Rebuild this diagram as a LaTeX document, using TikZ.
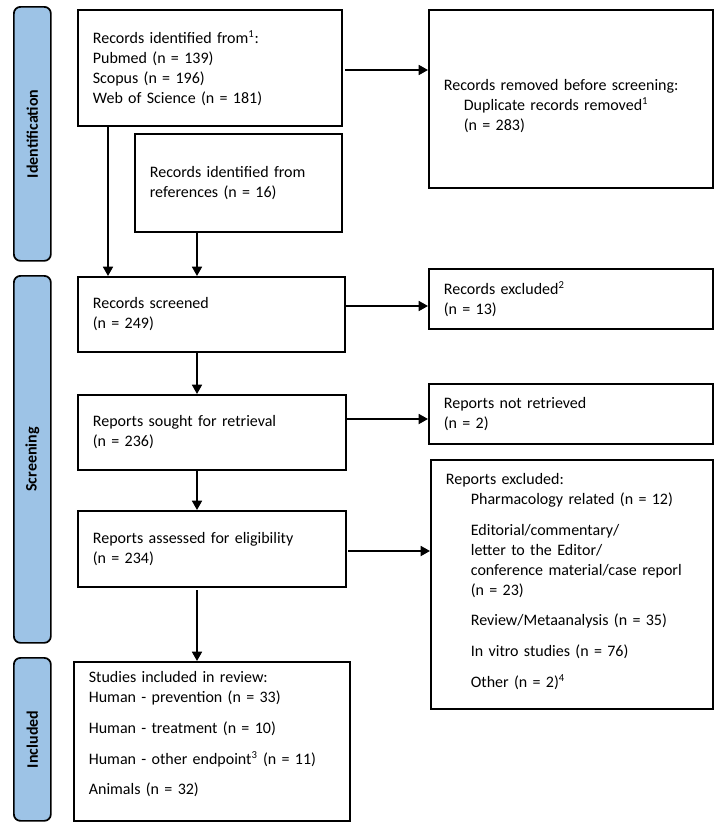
\documentclass[tikz,border=0pt]{standalone}
\usepackage{fontspec}
\setmainfont{Carlito}
\usetikzlibrary{arrows.meta}
\definecolor{barblue}{RGB}{157,195,230}
\begin{document}
\begin{tikzpicture}[x=0.75pt,y=-0.75pt,
  box/.style={draw, line width=1.3pt, align=left, inner xsep=11.25pt, inner ysep=0pt, anchor=north west, font=\fontsize{12pt}{15pt}\selectfont},
  bar/.style={draw, line width=1.3pt, fill=barblue, rounded corners=5pt, anchor=north west, minimum width=27.75pt, inner sep=0pt},
  barlabel/.style={rotate=90, font=\fontsize{12pt}{15pt}\selectfont\bfseries},
  arr/.style={line width=1.3pt, -{Triangle[length=7pt,width=7.5pt]}}]
\useasboundingbox (0,0) rectangle (719,828);
% phase bars
\node[bar, minimum height=190.5pt] (b1) at (13,6) {};
\node[barlabel] (l1) at (b1.center) {Identification};
\node[bar, minimum height=275.25pt] (b2) at (13,275) {};
\node[barlabel] (l2) at (b2.center) {Screening};
\node[bar, minimum height=122.25pt] (b3) at (13,657) {};
\node[barlabel] (l3) at (b3.center) {Included};
% boxes
\node[box, minimum width=198pt, text width=175.5pt, minimum height=87pt] (ident) at (77,9)
  {Records identified from\textsuperscript{1}:\\Pubmed (n = 139)\\Scopus (n = 196)\\Web of Science (n = 181)};
\node[box, minimum width=155.25pt, text width=132.75pt, minimum height=73.5pt] (refs) at (134,133)
  {Records identified from\\references (n = 16)};
\node[box, minimum width=213pt, text width=190.5pt, minimum height=133.5pt] (removed) at (428,9)
  {\rule{0pt}{19.5pt}Records removed before screening:\\\hspace*{15pt}Duplicate records removed\textsuperscript{1}\\\hspace*{15pt}(n = 283)};
\node[box, minimum width=200.25pt, text width=177.75pt, minimum height=56.25pt] (screened) at (77,276)
  {Records screened\\(n = 249)};
\node[box, minimum width=213pt, text width=190.5pt, minimum height=45pt] (excl1) at (428,268)
  {Records excluded\textsuperscript{2}\\(n = 13)};
\node[box, minimum width=201pt, text width=178.5pt, minimum height=56.25pt] (sought) at (77,394)
  {Reports sought for retrieval\\(n = 236)};
\node[box, minimum width=213pt, text width=190.5pt, minimum height=45pt] (notret) at (428,383)
  {Reports not retrieved\\(n = 2)};
\node[box, minimum width=201pt, text width=178.5pt, minimum height=57pt] (assessed) at (77,510)
  {Reports assessed for eligibility\\(n = 234)};
\node[box, minimum width=211.5pt, text width=189pt, minimum height=186.75pt] (exclrep) at (430,459)
  {Reports excluded:\\
   \hspace*{18.75pt}Pharmacology related (n = 12)\\[8pt]
   \hspace*{18.75pt}Editorial/commentary/\\
   \hspace*{18.75pt}letter to the Editor/\\
   \hspace*{18.75pt}conference material/case reporl\\
   \hspace*{18.75pt}(n = 23)\\[8pt]
   \hspace*{18.75pt}Review/Metaanalysis (n = 35)\\[8pt]
   \hspace*{18.75pt}In vitro studies (n = 76)\\[8pt]
   \hspace*{18.75pt}Other (n = 2)\textsuperscript{4}\rule[-6pt]{0pt}{0pt}};
\node[box, minimum width=207pt, text width=184.5pt, minimum height=119.25pt] (studies) at (73,661)
  {Studies included in review:\\Human - prevention (n = 33)\\[8pt]Human - treatment (n = 10)\\[8pt]Human - other endpoint\textsuperscript{3} (n = 11)\\[8pt]Animals (n = 32)\rule[-12pt]{0pt}{0pt}};
% connector start points
\coordinate (s1) at (108,125);
\coordinate (s2) at (197,233);
\coordinate (s3) at (345,70);
\coordinate (s4) at (345,306);
\coordinate (s5) at (346,419);
\coordinate (s6) at (348,551);
\coordinate (s7) at (197,351);
\coordinate (s8) at (197,469);
\coordinate (s9) at (197,590);
% connectors
\draw[arr] (s1) -- (s1 |- screened.north);
\draw[arr] (s2) -- (s2 |- screened.north);
\draw[arr] (s3) -- (s3 -| removed.west);
\draw[arr] (s4) -- (s4 -| excl1.west);
\draw[arr] (s5) -- (s5 -| notret.west);
\draw[arr] (s6) -- (s6 -| exclrep.west);
\draw[arr] (s7) -- (s7 |- sought.north);
\draw[arr] (s8) -- (s8 |- assessed.north);
\draw[arr] (s9) -- (s9 |- studies.north);
\end{tikzpicture}
\end{document}
